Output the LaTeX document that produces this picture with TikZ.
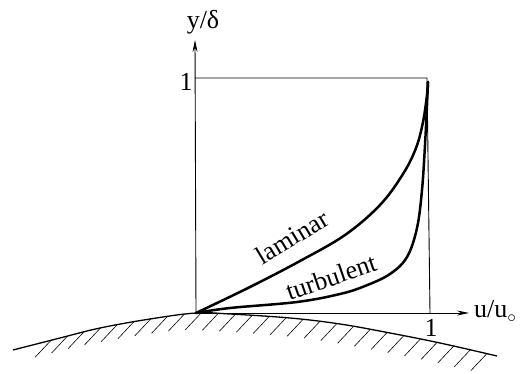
\documentclass[tikz,border=0pt]{standalone}
\usepackage{fontspec}
\setmainfont{Liberation Serif}
\usetikzlibrary{arrows.meta,decorations.markings}
\begin{document}
\begin{tikzpicture}[x=1pt,y=-1pt,
  axis/.style={line width=0.9pt},
  arr/.style={-{Stealth[length=12pt,width=5pt]}},
  prof/.style={line width=2.5pt, line cap=round, line join=round},
  ground/.style={line width=1.3pt},
  lbl/.style={font=\fontsize{26}{28}\selectfont, inner sep=0pt},
  hatched/.style={postaction={decorate,decoration={markings,
     mark=between positions 0.08 and 0.99 step 17pt with {\pgftransformresetnontranslations
       \draw[line width=0.6pt] (0,0) -- (-16,17);}}}}]
\useasboundingbox (0,0) rectangle (522,374);
\coordinate (O) at (196,313);
\coordinate (Ytip) at (195,40);
\coordinate (Xtip) at (469,313);
\coordinate (TL) at (195,78);
\coordinate (TR) at (427,78);
\coordinate (BR) at (430,313);
% axes
\draw[axis,arr] (O) -- (Ytip);
\draw[axis,arr] (O) -- (Xtip);
\draw[axis] (TL) -- (TR) -- (BR);
% ground
\draw[ground,hatched] plot[smooth,tension=0.6] coordinates {(13,350) (60,338) (100,328) (150,319) (196,313) (230,314) (290,318) (340,324) (390,333) (440,343) (497,356)};
% profiles
\draw[prof] plot[smooth,tension=0.6] coordinates {(196,313) (250,287) (300,261) (345,235) (380,205) (403,174) (416,148) (423,122) (427,95) (428,82)};
\draw[prof] plot[smooth,tension=0.6] coordinates {(196,313) (230,308) (297,302) (340,294) (365,286) (390,274) (407,257) (417,228) (422,190) (425,145) (427,105) (428,82)};
% labels
\node[lbl] (ylab) at (203,22) {y/δ};
\node[lbl] (y1) at (186,82) {1};
\node[lbl] (x1) at (431,328) {1};
\node[lbl,anchor=base west] (xlab) at (474,317) {u/u\raisebox{-0.5ex}{$\scriptstyle\circ$}};
\node[lbl,rotate=31] (lam) at (292,237) {laminar};
\node[lbl,rotate=19] (turb) at (331,277) {turbulent};
\end{tikzpicture}
\end{document}
